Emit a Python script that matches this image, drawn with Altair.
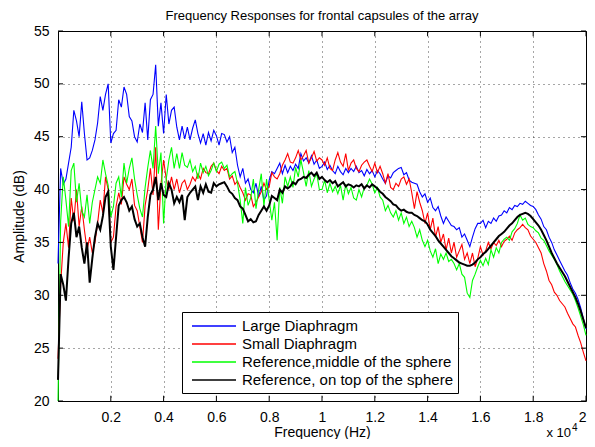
import altair as alt
import pandas as pd

# Frequency grid (Hz), one sample every 100 Hz
freqs = [i * 100 for i in range(201)]

large = [
    33, 42, 40.5, 41, 42.5, 44, 47.5, 46.5, 45, 48.3,
    45.3, 42.8, 43, 43.7, 44.7, 46.3, 48.8, 47.5, 49, 50,
    44.4, 45.3, 45.6, 48.5, 47.8, 49.7, 49, 46.9, 46.5, 45,
    44.5, 46.2, 45.4, 48.2, 44.7, 48.5, 49, 51.8, 46, 48.2,
    45.3, 49, 46.2, 47.5, 47.8, 45.9, 44.7, 46, 44.8, 45.9,
    44.7, 45.8, 46.6, 45.3, 44.4, 45.3, 44.2, 45.4, 44.6, 45.6,
    45.1, 44.2, 45.3, 45.2, 44.5, 45, 43.5, 44, 42.3, 41.2,
    42, 40.6, 41, 40, 39.7, 40.6, 39.3, 40.3, 39, 39.4,
    40.9, 41.7, 41.5, 42, 42.5, 41.5, 42.3, 41.6, 42.2, 41.8,
    42.4, 42, 43.4, 42.7, 43, 42.5, 43.2, 42.4, 42.8, 42,
    42.2, 42.6, 41.9, 42.3, 41.8, 41.5, 42.2, 41.7, 41.4, 42,
    41.6, 42, 41.7, 42.2, 41.6, 41.8, 41.3, 41.9, 41.5, 41.8,
    41.2, 41.8, 41.5, 41, 40.6, 41.3, 41.1, 41.6, 41.8, 42,
    42.1, 41.4, 41.6, 40.9, 40.7, 40.6, 40.5, 39.8, 39.3, 39.6,
    38.8, 39.2, 38.3, 38, 38.4, 37.5, 36.8, 37.4, 37, 36.6,
    36.5, 36.2, 36.4, 35.5, 35.8, 35.2, 34.6, 35.5, 36.3, 36.8,
    36.8, 37.1, 36.4, 37, 36.8, 37.3, 37, 37.5, 37.6, 38,
    37.8, 38.3, 38.1, 38.5, 38.4, 38.7, 38.6, 38.9, 38.7, 38.5,
    38.4, 38.1, 37.6, 37.2, 36.5, 36.2, 35.5, 35, 34.3, 33.8,
    33.3, 32.8, 32.3, 31.9, 31.2, 30.6, 30.2, 29.6, 28.8, 27.8,
    26.8,
]

small = [
    24, 31, 35, 36.8, 34.5, 39.2, 37, 40, 36.5, 38.4,
    36.2, 34.3, 35.5, 34, 35, 36.8, 39, 37.8, 41.2, 40,
    35, 35.5, 38.4, 39.7, 38.6, 41.2, 40.5, 40, 41, 38.5,
    38, 36.5, 35, 38.5, 40, 42, 39.5, 44, 36.2, 40.5,
    42.8, 41, 40, 41.2, 40, 41, 39.7, 40.6, 40.9, 40,
    40.5, 41.2, 40.8, 41.5, 41, 42, 41.6, 41.5, 42.2, 42.5,
    41.8, 41.5, 42.2, 41.8, 42, 41, 41.3, 40.5, 40.8, 40.2,
    39.7, 39, 39.6, 39.5, 38.4, 38.8, 39.3, 39.8, 40.6, 40,
    40.3, 41.6, 41.2, 41, 41.5, 42.3, 42.8, 43.4, 42.6, 42.5,
    43, 43.7, 42.8, 43.2, 43.7, 42.5, 43, 43.6, 42.7, 43,
    42.8, 42.3, 43, 42, 41.8, 42.8, 43.5, 42.6, 42.2, 43.4,
    41.8, 42.5, 42.8, 42, 41.7, 42.3, 42.6, 42.8, 42.2, 41.7,
    42.5, 41.6, 42.2, 41.5, 40.6, 41.5, 40.2, 40, 40.6, 40.3,
    41, 41.2, 40.5, 41, 39.7, 38.2, 39.8, 38.8, 38, 36.8,
    37.8, 36.2, 37.3, 35.5, 36.5, 35, 35.8, 34.3, 35.4, 34,
    35, 33.6, 34.2, 34.8, 33.4, 34, 33, 34, 32.7, 33.5,
    34.6, 33.8, 34.2, 35, 34.4, 35, 34.7, 35.2, 34.6, 35.1,
    35.3, 35.6, 35.2, 35.9, 36.2, 36.4, 36.7, 36.4, 36.2, 35.6,
    35.3, 35, 34.5, 34, 33, 32.3, 31.4, 31, 30.3, 30,
    29.5, 29.2, 28.9, 28.3, 27.8, 27.3, 27, 26.2, 25.5, 24.6,
    23.8,
]

ref_middle = [
    20, 37, 41.2, 39, 36.5, 41.8, 42.5, 38.8, 40.6, 38,
    37.4, 39.5, 36.8, 38.8, 40, 41.2, 40.6, 42.8, 41.5, 40.4,
    37.4, 38.4, 40.6, 41.2, 39.3, 42.5, 40.6, 42, 43, 41,
    39.5, 38.2, 37.4, 40.2, 42.1, 43.7, 42, 46, 41.5, 43.5,
    36.8, 41, 42.8, 44, 42, 43.4, 42, 43.5, 42.3, 42.1,
    42.8, 41.7, 42.2, 41, 42.5, 41.6, 42.2, 41.3, 41.8, 42.5,
    41.7, 42.4, 42.6, 42, 42.3, 41.2, 41.5, 41.7, 40.6, 39,
    36.8, 40.2, 38.5, 39.2, 41, 38.2, 40, 41.5, 38.4, 41,
    39, 37.1, 38.8, 35.2, 40.2, 38.7, 41.2, 40.3, 41.2, 40.2,
    42.1, 41.2, 42.8, 41.6, 40.3, 41.8, 40.3, 41, 41.5, 40,
    40, 40.9, 39.7, 40.6, 39.8, 40.3, 39.6, 40.4, 39, 40.5,
    39.6, 40.2, 39.2, 39, 40, 39.3, 40.2, 40.4, 41, 40.5,
    39.7, 40.2, 39.3, 39, 38, 38.5, 37.8, 37.4, 38, 37.1,
    37.8, 36.8, 37.4, 36.5, 37, 36.4, 35.5, 36.2, 35.2, 34.6,
    35.2, 34.2, 33.6, 34.4, 33, 33.9, 33.4, 34, 33.2, 33.4,
    33, 32.4, 33, 32, 31.7, 30.2, 29.8, 31.4, 32, 32.7,
    33.3, 32.8, 33.5, 32.9, 34.3, 33.6, 34.5, 34, 35, 35.3,
    35.5, 35.2, 36, 36.3, 36.8, 37.6, 37.1, 37.3, 36.7, 36.5,
    36.4, 36.1, 35.9, 35.4, 35.2, 34.7, 34.2, 33.8, 33.4, 32.9,
    32.3, 31.8, 31.3, 30.9, 30.5, 30.1, 29.5, 28.8, 28, 27.2,
    26.2,
]

ref_top = [
    22, 32, 31, 29.5, 33.5, 36.8, 37.8, 35.5, 36.5, 34.5,
    33, 35, 31.2, 33.5, 35.5, 36.8, 36.2, 37.5, 39.3, 39.8,
    34.6, 32.4, 35.5, 38.5, 39, 39.3, 38.8, 38, 38.4, 37.2,
    36.5, 36.8, 35.5, 34.6, 37.4, 39.5, 40, 41.2, 39, 40.6,
    39.5, 39.3, 40.6, 40, 38.7, 39.3, 38.8, 39.5, 37.1, 39.3,
    39.7, 40, 40.3, 39, 40.3, 39.7, 40.5, 39.8, 39.7, 40.6,
    40.3, 40.5, 40.6, 40.7, 40.3, 39.8, 39.6, 39.2, 39, 38.4,
    38.2, 37.6, 37, 37.2, 36.9, 37, 37.6, 38, 38.4, 38,
    38.5, 39.4, 39.2, 39, 40, 39.7, 40.3, 40.1, 40.3, 40.7,
    40.5, 40.9, 41, 41.2, 41.1, 41.4, 41.6, 41.3, 41.6, 41,
    41.2, 40.9, 40.7, 40.9, 40.6, 40.8, 40.3, 40.5, 40.7, 40.3,
    40.5, 40.4, 40.2, 40.4, 40.3, 40.5, 40.1, 40.4, 40.2, 40.5,
    40.3, 40.1, 39.8, 39.6, 39.3, 39.1, 38.9, 38.6, 38.5, 38.2,
    38, 38.1, 37.9, 37.8, 37.8, 37.6, 37.5, 37.3, 37.1, 37,
    36.7, 36.2, 35.9, 35.6, 35.2, 34.9, 34.6, 34.3, 34, 33.7,
    33.5, 33.3, 33.1, 33, 32.9, 32.8, 32.8, 32.9, 33.1, 33.4,
    33.6, 33.9, 34.1, 34.4, 34.7, 35, 35.3, 35.6, 35.8, 36,
    36.3, 36.6, 36.8, 37.1, 37.4, 37.6, 37.7, 37.8, 37.7, 37.5,
    37.2, 36.9, 36.6, 36.2, 35.7, 35.2, 34.6, 34, 33.5, 33,
    32.6, 32.2, 31.8, 31.3, 30.8, 30.3, 29.8, 29.2, 28.5, 27.7,
    26.9,
]

series_names = [
    "Large Diaphragm",
    "Small Diaphragm",
    "Reference,middle of the sphere",
    "Reference, on top of the sphere",
]
series_colors = ["#0000ff", "#ff0000", "#00ff00", "#000000"]
series_widths = [1.1, 1.1, 1.1, 2.0]

x_ticks = [2000, 4000, 6000, 8000, 10000, 12000, 14000, 16000, 18000, 20000]
y_ticks = [20, 25, 30, 35, 40, 45, 50, 55]

FONT = "Liberation Sans"

all_series = [large, small, ref_middle, ref_top]
for s in all_series:
    assert len(s) == len(freqs), len(s)

rows = []
for name, vals in zip(series_names, all_series):
    for f, v in zip(freqs, vals):
        rows.append({"f": f, "amp": v, "series": name})
df = pd.DataFrame(rows)

x_scale = alt.Scale(domain=[0, 20000], nice=False, zero=False)
y_scale = alt.Scale(domain=[20, 55], nice=False, zero=False)

x_axis = alt.Axis(
    values=x_ticks, labelExpr="'' + datum.value / 10000", title="Frequency (Hz)",
    grid=True, ticks=False, domain=False, labelFontSize=14, labelPadding=9,
    labelFont=FONT, titleFont=FONT, titleFontSize=14, titleFontWeight="normal",
    titleY=35, titleBaseline="alphabetic", labelColor="black", titleColor="black",
)
y_axis = alt.Axis(
    values=y_ticks, format="d", title="Amplitude (dB)", grid=True, ticks=False,
    domain=False, labelFontSize=14, labelPadding=9, labelFont=FONT,
    titleFont=FONT, titleFontSize=14, titleFontWeight="normal",
    titleX=-39, titleBaseline="middle", labelColor="black", titleColor="black",
)

color = alt.Color(
    "series:N",
    sort=series_names,
    scale=alt.Scale(domain=series_names, range=series_colors),
    legend=alt.Legend(
        title=None, orient="none", legendX=124, legendY=281, direction="vertical",
        symbolType="M-0.5,0H5", symbolSize=256, symbolStrokeWidth=1.5,
        labelFontSize=15, labelFont=FONT, labelColor="black", labelOffset=37,
        padding=5, rowPadding=1, strokeColor="black", fillColor="white",
        cornerRadius=0, labelLimit=400,
    ),
)

base = alt.Chart(df).encode(
    x=alt.X("f:Q", scale=x_scale, axis=x_axis),
    y=alt.Y("amp:Q", scale=y_scale, axis=y_axis),
    color=color,
)

line_layers = [
    base.transform_filter(alt.datum.series == name).mark_line(strokeWidth=w)
    for name, w in zip(series_names, series_widths)
]

xt = pd.DataFrame({"f": x_ticks})
yt = pd.DataFrame({"v": y_ticks})
bottom_ticks = alt.Chart(xt).mark_rule(color="black", strokeWidth=1).encode(
    x=alt.X("f:Q", scale=x_scale), y=alt.datum(20), y2=alt.datum(20.5))
top_ticks = alt.Chart(xt).mark_rule(color="black", strokeWidth=1).encode(
    x=alt.X("f:Q", scale=x_scale), y=alt.datum(55), y2=alt.datum(54.5))
left_ticks = alt.Chart(yt).mark_rule(color="black", strokeWidth=1).encode(
    y=alt.Y("v:Q", scale=y_scale), x=alt.datum(0), x2=alt.datum(190))
right_ticks = alt.Chart(yt).mark_rule(color="black", strokeWidth=1).encode(
    y=alt.Y("v:Q", scale=y_scale), x=alt.datum(20000), x2=alt.datum(19810))

exp_df = pd.DataFrame({"t": ["x 10"], "e": ["4"]})
exp_base = alt.Chart(exp_df).encode(x=alt.datum(20000), y=alt.datum(20))
exp_text = exp_base.mark_text(
    align="right", baseline="alphabetic", dx=-15, dy=36, fontSize=13, font=FONT, color="black"
).encode(text="t:N")
exp_sup = exp_base.mark_text(
    align="left", baseline="alphabetic", dx=-14, dy=30, fontSize=10, font=FONT, color="black"
).encode(text="e:N")

chart = alt.layer(
    *line_layers, bottom_ticks, top_ticks, left_ticks, right_ticks, exp_text, exp_sup
).properties(
    width=528,
    height=370,
    title=alt.TitleParams(
        "Frequency Responses for frontal capsules of the array",
        fontSize=13, fontWeight="normal", font=FONT, anchor="middle", offset=1,
        color="black",
    ),
    autosize=alt.AutoSizeParams(type="none"),
    padding={"left": 50, "top": 23, "right": 1, "bottom": 38},
).configure_view(
    stroke="black", strokeWidth=1
).configure_axis(
    gridColor="black", gridDash=[1, 4], gridOpacity=0.7, gridWidth=1
)

chart.save("out.html", embed_options={"renderer": "svg", "actions": False})
